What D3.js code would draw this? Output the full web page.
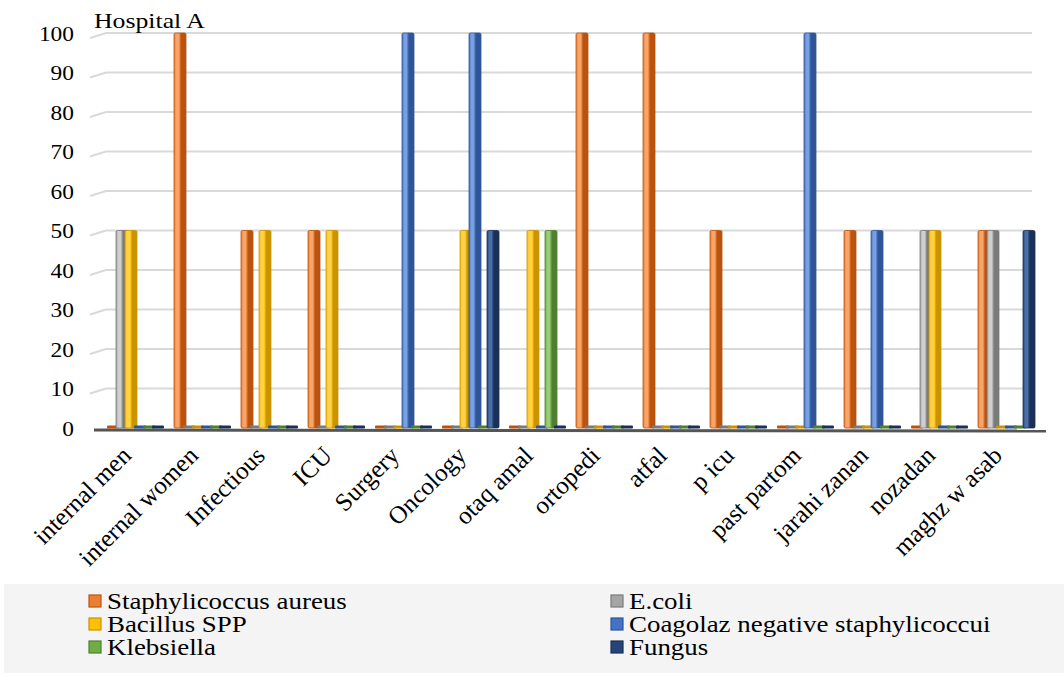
<!DOCTYPE html>
<html><head><meta charset="utf-8">
<script src="https://cdn.jsdelivr.net/npm/d3@7"></script>
<style>
body{margin:0;background:#fff;}
</style></head>
<body><svg id="c" width="1064" height="673" font-family="'Liberation Serif', 'Times New Roman', serif"></svg>
<script>
const categories = ["internal men","internal women","Infectious","ICU","Surgery","Oncology","otaq amal","ortopedi","atfal","p icu","past partom","jarahi zanan","nozadan","maghz w asab"];
const seriesNames = ["Staphylicoccus aureus","E.coli","Bacillus SPP","Coagolaz negative staphylicoccui","Klebsiella","Fungus"];
const staphylococcus = [0,100,50,50,0,0,0,100,100,50,0,50,0,50];
const ecoli          = [50,0,0,0,0,0,0,0,0,0,0,0,50,50];
const bacillus       = [50,0,50,50,0,50,50,0,0,0,0,0,50,0];
const coagolaz       = [0,0,0,0,100,100,0,0,0,0,100,50,0,0];
const klebsiella     = [0,0,0,0,0,0,50,0,0,0,0,0,0,0];
const fungus         = [0,0,0,0,0,50,0,0,0,0,0,0,0,50];
const yTicks = [0,10,20,30,40,50,60,70,80,90,100];
const title = "Hospital A";

const FONT = "'Liberation Serif', 'Times New Roman', serif";
const SX = 1.17; // horizontal text stretch seen in the reference
const seriesValues = [staphylococcus, ecoli, bacillus, coagolaz, klebsiella, fungus];
const palette = [
  {base:"#ED7D31", dark:"#b8540f", light:"#f7a56b"},
  {base:"#A5A5A5", dark:"#7a7a7a", light:"#cfcfcf"},
  {base:"#FFC000", dark:"#c99400", light:"#ffd24d"},
  {base:"#4472C4", dark:"#2f5597", light:"#7aa0e0"},
  {base:"#70AD47", dark:"#4f7f30", light:"#9ccc7a"},
  {base:"#264478", dark:"#1a3056", light:"#4a6fa8"}
];

const svg = d3.select("#c");
const defs = svg.append("defs");
palette.forEach((p,i)=>{
  const g = defs.append("linearGradient").attr("id","g"+i).attr("x1","0").attr("x2","1").attr("y1","0").attr("y2","0");
  [[0,p.base],[0.2,p.light],[0.38,p.light],[0.5,p.base],[0.58,p.dark],[1,p.dark]].forEach(s=>g.append("stop").attr("offset",s[0]).attr("stop-color",s[1]));
});

svg.append("rect").attr("x",4).attr("y",584).attr("width",1060).attr("height",89).attr("fill","#f4f4f4");

const x0 = d3.scaleBand().domain(categories).range([102,1040]);
const bw = x0.bandwidth();
const x1 = d3.scaleBand().domain(seriesNames).range([bw/2-27, bw/2+27]);
const y = d3.scaleLinear().domain([0,100]).range([428,33]);

const grid = svg.append("g");
yTicks.forEach(t=>{
  if(t===0) return;
  grid.append("path").attr("d",`M90,${y(t)+5}L106,${y(t)}L1032,${y(t)}`)
    .attr("fill","none").attr("stroke","#d9d9d9").attr("stroke-width",2);
});

const yAxis = d3.axisLeft(y).tickValues(yTicks).tickSize(0).tickPadding(0);
const ga = svg.append("g").attr("transform","translate(74,0)").call(yAxis);
ga.attr("font-family",FONT).attr("font-size",20);
ga.select(".domain").remove();
ga.selectAll("text").attr("font-family",FONT).attr("font-size",20).attr("fill","#000")
  .attr("dy","0.35em").attr("transform",`scale(${SX},1)`);

svg.append("path").attr("d","M94,430L1046,431").attr("stroke","#555").attr("stroke-width",3).attr("fill","none");

const barW = 12;
seriesValues.forEach((vals,si)=>{
  const g = svg.append("g");
  categories.forEach((c,ci)=>{
    const v = vals[ci];
    const cx = x0(c) + x1(seriesNames[si]) + x1.bandwidth()/2;
    if(v>0){
      g.append("rect").attr("x",cx-barW/2).attr("y",y(v)).attr("width",barW).attr("height",y(0)-y(v))
        .attr("rx",1.5).attr("fill",`url(#g${si})`).attr("stroke",palette[si].dark).attr("stroke-width",0.8);
    } else {
      g.append("rect").attr("x",cx-barW/2).attr("y",y(0)-2.5).attr("width",barW).attr("height",3)
        .attr("rx",1).attr("fill",palette[si].dark);
    }
  });
});

svg.append("text").attr("transform",`translate(94,28) scale(${SX},1)`).attr("font-family",FONT).attr("font-size",22).text(title);

svg.append("g").selectAll("text").data(categories).join("text")
  .attr("transform",d=>`translate(${x0(d)+bw/2-3},${457}) rotate(-45)`)
  .attr("font-family",FONT).attr("text-anchor","end").attr("font-size",25).text(d=>d);

const leg = svg.append("g");
seriesNames.forEach((n,i)=>{
  const col = i%2, row = Math.floor(i/2);
  const lx = col===0 ? 89 : 611, ly = 601 + row*23;
  leg.append("rect").attr("x",lx).attr("y",ly-6).attr("width",12).attr("height",12)
    .attr("fill",palette[i].base).attr("stroke",palette[i].dark).attr("stroke-width",1.2);
  leg.append("text").attr("transform",`translate(${lx+18},${ly}) scale(${SX},1)`).attr("dy","0.35em")
    .attr("font-family",FONT).attr("font-size",23).text(n);
});
</script></body></html>
